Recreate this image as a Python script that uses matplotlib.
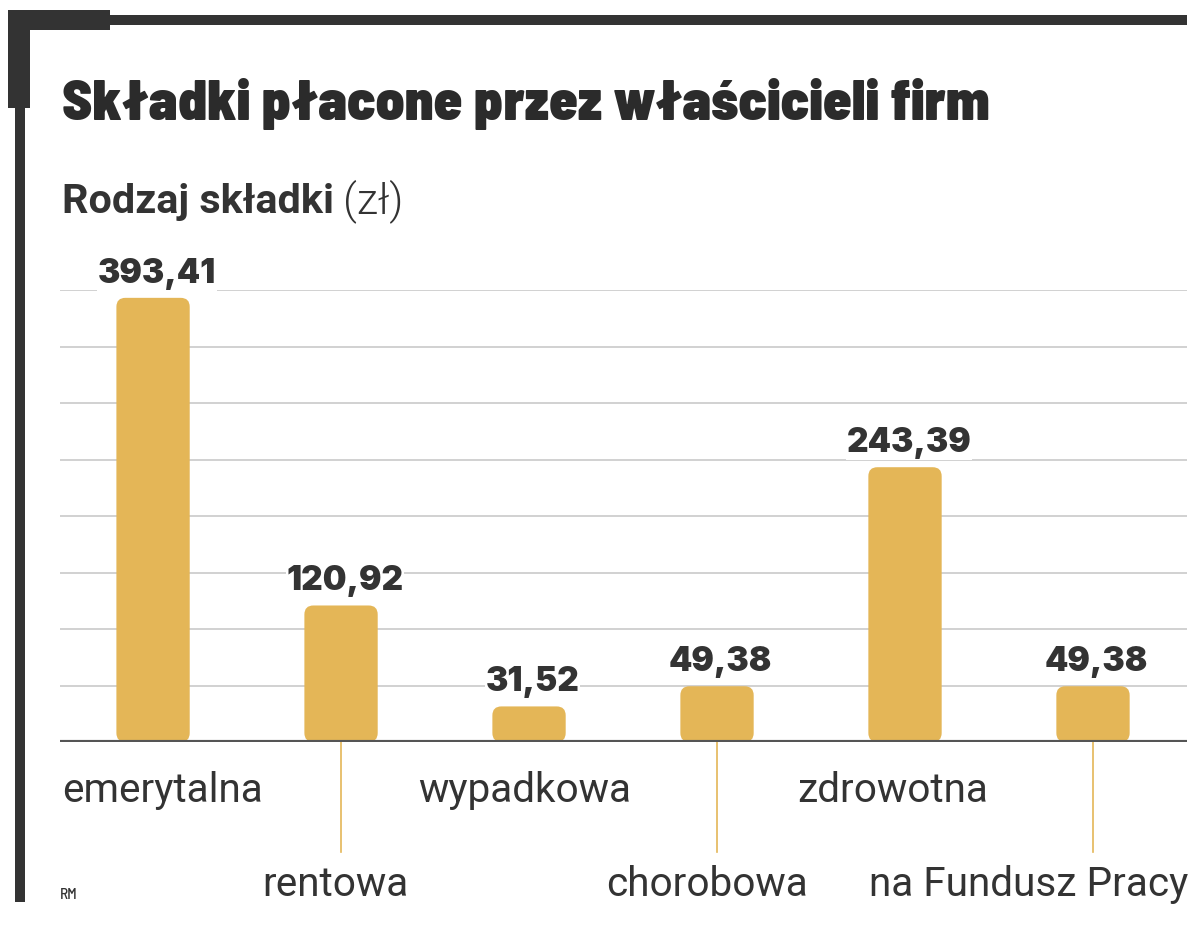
import numpy as np
import matplotlib
matplotlib.use("Agg")
import matplotlib.pyplot as plt
from matplotlib.patches import FancyBboxPatch, Rectangle

# data
categories = ["emerytalna", "rentowa", "wypadkowa", "chorobowa", "zdrowotna", "na Fundusz Pracy"]
values = [393.41, 120.92, 31.52, 49.38, 243.39, 49.38]
value_labels = ["393,41", "120,92", "31,52", "49,38", "243,39", "49,38"]
grid_ticks = [50, 100, 150, 200, 250, 300, 350, 400]

# label nudges in pixels (layout only)
label_dx = [9, -6, -4, -10, -12, 0]

W, H = 1200, 934
dark = "#333333"
gold = "#E4B657"

title_font = ["Barlow Semi Condensed", "DejaVu Sans"]
value_font = ["Inter", "DejaVu Sans"]
label_font = ["Roboto", "DejaVu Sans"]

fig = plt.figure(figsize=(W / 100, H / 100), dpi=100)
fig.canvas.draw()
r = fig.canvas.get_renderer()


def px_rect(left, top, right, bottom):
    return [left / W, 1 - bottom / H, (right - left) / W, (bottom - top) / H]


def fit_size(family, weight, s, target):
    t = fig.text(0, 0, s, family=family, fontweight=weight, fontsize=20)
    w = t.get_window_extent(r).width
    t.remove()
    return 20 * target / w


val_size = fit_size(value_font, 900, "243,39", 125)
lab_size = fit_size(label_font, 350, "emerytalna", 200)

# main plot area: baseline at y=742px, 400 at ~290px
ax = fig.add_axes(px_rect(60, 290.4, 1187, 742))
ax.set_xlim(-0.495, 5.5)
ax.set_ylim(0, 400)
ax.axis("off")

y_per_px = 400 / 451.6
x_per_px = 1 / 188
aspect = y_per_px / x_per_px

for g in grid_ticks:
    ax.axhline(g, color="#c9c9c9", lw=1.2, zorder=1)

bar_w = 0.39
x = np.arange(len(values))
for xi, v, lab in zip(x, values, value_labels):
    p = FancyBboxPatch((xi - bar_w / 2, 0), bar_w, v,
                       boxstyle="round,pad=0,rounding_size=%f" % (9 * x_per_px),
                       mutation_aspect=aspect, fc=gold, ec="none", zorder=2)
    ax.add_patch(p)
    ax.text(xi + 0.02, v + 15 * y_per_px, lab, ha="center", va="baseline",
            fontsize=val_size, fontweight=900, family=value_font, color=dark,
            zorder=4, bbox=dict(fc="white", ec="none", pad=0.5))

ax.axhline(0, color="#555555", lw=3, zorder=3)

# category labels, alternating rows with leader lines
for i, (xi, name) in enumerate(zip(x, categories)):
    lx = xi + label_dx[i] * x_per_px
    if i % 2 == 0:
        ax.text(lx, -48 * y_per_px, name, ha="center", va="center",
                fontsize=lab_size, fontweight=350, family=label_font,
                color=dark, clip_on=False)
    else:
        ax.plot([xi, xi], [0, -110 * y_per_px], color=gold, lw=1.2,
                clip_on=False, zorder=1)
        if i == len(categories) - 1:
            ax.text(5.505, -143 * y_per_px, name, ha="right", va="center",
                    fontsize=lab_size, fontweight=350, family=label_font,
                    color=dark, clip_on=False)
        else:
            ax.text(lx, -143 * y_per_px, name, ha="center", va="center",
                    fontsize=lab_size, fontweight=350, family=label_font,
                    color=dark, clip_on=False)

# overlay for frame and headings, in pixel coordinates
ov = fig.add_axes([0, 0, 1, 1], zorder=-1)
ov.set_xlim(0, W)
ov.set_ylim(H, 0)
ov.axis("off")

ov.add_patch(Rectangle((108, 15), 1187 - 108, 10, fc=dark, ec="none"))
ov.add_patch(Rectangle((8, 10), 102, 20, fc=dark, ec="none"))
ov.add_patch(Rectangle((8, 10), 22, 98, fc=dark, ec="none"))
ov.add_patch(Rectangle((15, 10), 10, 892, fc=dark, ec="none"))

title_size = fit_size(title_font, 900, "Składki płacone przez właścicieli firm", 928)
ov.text(62, 120, "Składki płacone przez właścicieli firm", ha="left",
        va="baseline", fontsize=title_size, fontweight=900, color="#2b2b2b",
        family=title_font)

sub_size = fit_size(label_font, 700, "Rodzaj składki", 271)
ov.text(62, 213, "Rodzaj składki", ha="left", va="baseline",
        fontsize=sub_size, fontweight=700, family=label_font, color=dark)
ov.text(343, 213, "(zł)", ha="left", va="baseline", fontsize=sub_size * 1.05,
        fontweight=300, family=label_font, color=dark)

ov.text(60, 899, "RM", ha="left", va="baseline", fontsize=11, color=dark,
        fontweight=500, family=title_font)

fig.savefig("out.png", dpi=100, facecolor="white")
